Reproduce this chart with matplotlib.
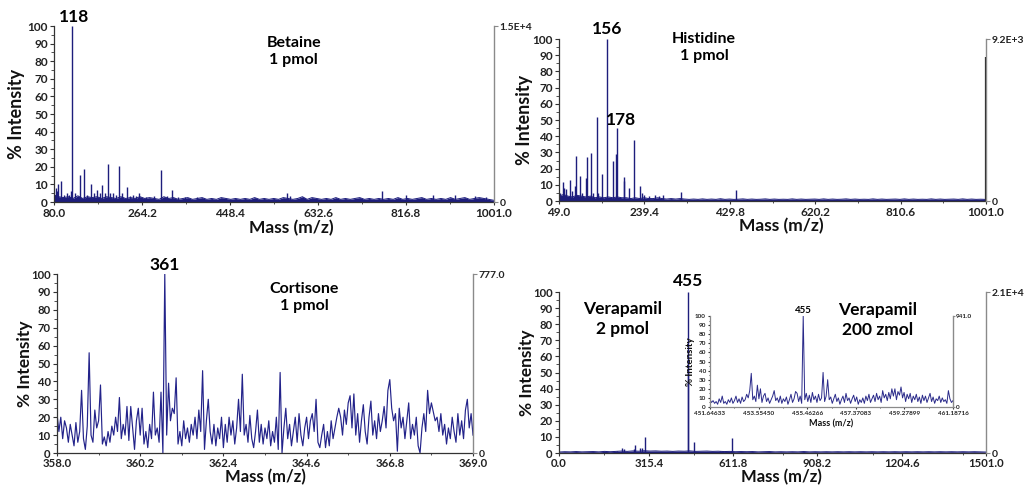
import numpy as np
import matplotlib
matplotlib.use("Agg")
import matplotlib.pyplot as plt
from matplotlib.ticker import MultipleLocator

plt.rcParams['font.family'] = ['Lato', 'DejaVu Sans']
plt.rcParams['font.weight'] = 'bold'

NAVY = '#1d1d7c'
AXIS = '#333333'
GREY = '#8a8a8a'

# ---------------- Betaine, 1 pmol ----------------
betaine_xticks = [80.0, 264.2, 448.4, 632.6, 816.8, 1001.0]
betaine_peak_mz = [84, 86, 89, 94, 100, 108, 112, 115, 118, 125, 134, 142, 150, 158, 164,
                   170, 176, 181, 186, 192, 198, 204, 210, 216, 222, 232, 240, 245, 252,
                   258, 272, 290, 305, 316, 327, 340, 355, 380, 568, 574, 767, 817, 873,
                   920, 962, 985]
betaine_peak_int = [8, 6, 10, 12, 4, 5, 4, 6, 100, 5, 15.5, 18.5, 4, 10, 5,
                    7, 5, 9.5, 5, 21.5, 5, 5, 4, 20.5, 5, 8.5, 3.5, 4, 3.5,
                    5, 3, 3.5, 18, 3.5, 7, 3, 3, 3, 5, 3.5, 6, 4, 4,
                    4, 3.5, 3]
betaine_noise = [4, 3, 2.5, 3, 2, 3.5, 2, 3, 2.5, 3,
                 2, 3, 2.5, 2, 3, 2, 2.5, 2, 3, 2,
                 2.5, 2, 1.5, 3, 2, 2.5, 1.5, 2, 2.5, 1.5,
                 2, 2.5, 1.5, 2, 1.5, 2.5, 2, 1.5, 2, 1.5,
                 2, 1.5, 2.5, 1.5, 2, 1.5, 2, 1.5, 2.5, 2,
                 1.5, 2, 3, 1.5, 2.5, 2, 1.5, 2, 1.5, 2.5,
                 1.5, 2, 1.5, 2, 2.5, 1.5, 2, 1.5, 2, 1.5,
                 2, 1.5, 2.5, 1.5, 2, 1.5, 2, 2.5, 1.5, 2,
                 1.5, 2, 1.5, 2.5, 1.5, 2, 2.5, 1.5, 2, 2.5,
                 2, 1.5, 1]
betaine_noise_start, betaine_noise_step = 80.0, 10.0

# ---------------- Histidine, 1 pmol ----------------
histidine_xticks = [49.0, 239.4, 429.8, 620.2, 810.6, 1001.0]
histidine_peak_mz = [51, 57, 61, 64, 73.5, 77, 85, 86, 96, 100, 110, 112, 121, 124, 134,
                     136, 145.5, 157, 169.5, 177, 178, 194, 195, 205, 217, 230, 233,
                     239, 250, 262, 271, 280, 322, 443]
histidine_peak_int = [5, 12, 8, 7.5, 13, 6, 9, 28, 15.5, 5, 14, 27, 29.5, 5, 52,
                      5, 16.5, 100, 24.5, 29, 45, 12.5, 15, 8, 37.5, 9, 5,
                      4, 3, 3.5, 3, 3.5, 5.5, 6.5]
histidine_edge = (1001.0, 89)
histidine_noise = [3, 4, 3, 2.5, 3.5, 3, 2.5, 3, 2, 2.5,
                   2, 2.5, 2, 2.5, 2, 2, 1.5, 2, 1.5, 2,
                   1.5, 1.5, 2, 1.5, 1.2, 1.5, 1.2, 1.5, 1.2, 1,
                   1.2, 1, 1.3, 1, 1.2, 1, 1.4, 1, 1.2, 1,
                   1.1, 1.3, 1, 1.2, 1, 1.1, 1.3, 1, 1.2, 1,
                   1.1, 1, 1.3, 1, 1.2, 1, 1.1, 1.2, 1, 1.3,
                   1, 1.2, 1, 1.1, 1.3, 1, 1.2, 1, 1.1, 1,
                   1.3, 1, 1.2, 1, 1.1, 1.2, 1, 1.3, 1, 1.2,
                   1, 1.1, 1, 1.3, 1, 1.2, 1, 1.1, 1.2, 1,
                   1.3, 1, 1.2, 1, 1.1, 1]
histidine_noise_start, histidine_noise_step = 49.0, 10.0

# ---------------- Cortisone, 1 pmol (profile) ----------------
cortisone_xticks = [358.0, 360.2, 362.4, 364.6, 366.8, 369.0]
cortisone_start, cortisone_step = 358.0, 0.05
cortisone_int = [22, 12, 20, 8, 18, 14, 6, 16, 10, 4,
                 17, 6, 12, 35, 8, 2, 15, 56, 10, 6,
                 24, 14, 18, 38, 5, 9, 4, 12, 6, 15,
                 10, 20, 12, 31, 8, 16, 10, 26, 7, 26,
                 14, 2, 18, 25, 10, 25, 5, 12, 3, 16,
                 8, 34, 10, 14, 6, 34, 0, 100, 10, 39,
                 18, 25, 22, 42, 5, 12, 4, 18, 8, 14,
                 6, 16, 10, 20, 8, 24, 12, 46, 2, 18,
                 30, 12, 5, 16, 4, 14, 8, 20, 3, 16,
                 6, 20, 10, 18, 5, 14, 30, 12, 44, 10,
                 16, 6, 21, 8, 3, 12, 24, 6, 16, 5,
                 14, 8, 18, 4, 12, 6, 20, 2, 45, 0,
                 14, 25, 8, 16, 4, 12, 20, 6, 22, 10,
                 4, 14, 20, 8, 18, 22, 12, 30, 6, 3,
                 10, 16, 3, 12, 4, 18, 8, 14, 20, 25,
                 20, 10, 24, 16, 28, 32, 14, 33, 10, 22,
                 6, 18, 27, 12, 5, 20, 29, 10, 18, 8,
                 22, 12, 18, 26, 14, 35, 41, 25, 18, 22,
                 1, 25, 14, 20, 8, 18, 28, 8, 16, 10,
                 20, 4, 0, 14, 22, 12, 35, 22, 28, 23,
                 18, 20, 12, 22, 10, 16, 5, 14, 8, 20,
                 12, 6, 22, 10, 18, 8, 24, 30, 14, 22,
                 10]

# ---------------- Verapamil, 2 pmol ----------------
verapamil_xticks = [0.0, 315.4, 611.8, 908.2, 1204.6, 1501.0]
verapamil_peak_mz = [203, 223, 227, 262, 266, 285, 291, 303, 454, 455, 473, 566, 607]
verapamil_peak_int = [1.5, 3, 2.5, 2.5, 5, 3, 3, 10, 52, 100, 7, 1.5, 9.5]
verapamil_noise = [0.6, 0.8, 0.7, 0.9, 0.7, 0.8, 0.9, 0.7, 1.0, 0.8,
                   1.0, 1.2, 1.0, 1.3, 1.1, 1.4, 1.2, 1.3, 1.1, 1.2,
                   1.0, 1.2, 1.1, 1.3, 1.0, 1.1, 1.2, 1.0, 1.1, 0.9,
                   1.0, 0.8, 0.9, 0.8, 0.9, 0.7, 0.8, 0.9, 0.7, 0.8,
                   0.7, 0.8, 0.7, 0.9, 0.7, 0.8, 0.7, 0.8, 0.7, 0.8,
                   0.7, 0.8, 0.7, 0.8, 0.7, 0.8, 0.7, 0.8, 0.7, 0.8,
                   0.7, 0.8, 0.7, 0.8, 0.7, 0.8, 0.7, 0.8, 0.7, 0.8,
                   0.7, 0.8, 0.7, 0.8, 0.7, 0.6]
verapamil_noise_start, verapamil_noise_step = 0.0, 20.0

# ---------------- Verapamil, 200 zmol (inset profile) ----------------
inset_xticks = [451.64633, 453.55450, 455.46266, 457.37083, 459.27899, 461.18716]
inset_start, inset_step = 451.64633, 0.06
inset_int = [8, 5, 7, 4, 6, 3, 9, 5, 12, 4,
             6, 3, 8, 5, 10, 4, 7, 12, 5, 9,
             4, 11, 6, 8, 14, 10, 18, 37, 8, 12,
             6, 24, 9, 20, 5, 12, 15, 6, 10, 4,
             8, 12, 18, 7, 10, 5, 12, 4, 9, 6,
             11, 3, 8, 14, 5, 9, 17, 15, 6, 12,
             4, 100, 8, 15, 6, 13, 5, 16, 8, 12,
             5, 14, 7, 10, 38, 6, 12, 30, 8, 11,
             4, 9, 14, 6, 10, 3, 8, 12, 5, 15,
             7, 10, 4, 9, 13, 6, 11, 3, 8, 5,
             10, 4, 12, 7, 14, 5, 9, 13, 6, 15,
             8, 12, 5, 18, 10, 14, 7, 16, 9, 20,
             12, 20, 8, 17, 13, 22, 10, 16, 6, 14,
             9, 15, 5, 12, 8, 14, 6, 11, 4, 13,
             7, 12, 5, 10, 15, 6, 11, 4, 9, 7,
             12, 5, 10, 6, 8, 4, 18, 9, 5, 7]

y_ticks = list(range(0, 101, 10))


def grid(start, step, values):
    return start + step * np.arange(len(values))


def style_axes(ax, xticks, right_top, ylab_x, xlab_xy, tick_fs=8.5, label_fs=12.5,
               right_fs=7.5, fmt='{:.1f}', xpad=2.0):
    ax.set_xlim(xticks[0], xticks[-1])
    ax.set_ylim(0, 100)
    ax.set_yticks(y_ticks)
    ax.yaxis.set_minor_locator(MultipleLocator(5))
    ax.set_xticks(xticks)
    ax.set_xticklabels([fmt.format(v) for v in xticks])
    step = xticks[1] - xticks[0]
    ax.set_xticks([xticks[0] + step * (i + 0.5) for i in range(len(xticks) - 1)], minor=True)
    ax.tick_params(axis='y', which='major', labelsize=tick_fs, length=3, width=0.8,
                   color=AXIS, labelcolor='#222222', pad=1.5)
    ax.tick_params(axis='x', which='major', labelsize=tick_fs, length=2, width=0.8,
                   direction='out', color=AXIS, labelcolor='#222222', pad=xpad)
    ax.tick_params(axis='y', which='minor', length=2, width=0.6, color=AXIS)
    ax.tick_params(axis='x', which='minor', length=1.5, width=0.6, color=AXIS)
    for lab in ax.get_xticklabels() + ax.get_yticklabels():
        lab.set_fontweight('bold')
    ax.spines['top'].set_visible(False)
    ax.spines['right'].set_visible(False)
    ax.spines['left'].set_color(AXIS)
    ax.spines['bottom'].set_color(AXIS)
    ax.spines['left'].set_linewidth(0.9)
    ax.spines['bottom'].set_linewidth(0.9)
    ax.set_ylabel('% Intensity', fontsize=label_fs + 0.5, fontweight='bold', color='#111111')
    ax.set_xlabel('Mass (m/z)', fontsize=label_fs, fontweight='bold', color='#111111')
    ax.yaxis.set_label_coords(ylab_x, 0.5)
    ax.xaxis.set_label_coords(*xlab_xy)
    ax.patch.set_alpha(0)

    tw = ax.twinx()
    tw.set_ylim(0, 100)
    tw.set_yticks([0, 100])
    tw.set_yticklabels(['0', right_top])
    tw.tick_params(axis='y', labelsize=right_fs, length=3, width=0.8, color=GREY,
                   labelcolor='#222222', pad=1)
    for s in ('top', 'left', 'bottom'):
        tw.spines[s].set_visible(False)
    tw.spines['right'].set_color(GREY)
    tw.spines['right'].set_linewidth(1.0)
    return tw


def draw_sticks(ax, noise_x, noise_y, peak_x, peak_y):
    ax.fill_between(noise_x, noise_y, 0, color=NAVY, lw=0)
    ax.plot(noise_x, noise_y, color=NAVY, lw=0.7)
    ax.vlines(peak_x, 0, peak_y, color=NAVY, lw=1.0)


fig = plt.figure(figsize=(10.35, 4.9), dpi=100)
W, H = 1035.0, 490.0


def box(l, r, t, b):
    return [l / W, 1 - b / H, (r - l) / W, (b - t) / H]


# Betaine
ax1 = fig.add_axes(box(54, 494, 26, 202))
draw_sticks(ax1, grid(betaine_noise_start, betaine_noise_step, betaine_noise), betaine_noise,
            betaine_peak_mz, betaine_peak_int)
style_axes(ax1, betaine_xticks, '1.5E+4', -0.066, (0.54, -0.1))
ax1.text(121, 100.5, '118', ha='center', va='bottom', fontsize=12.5, fontweight='bold')
ax1.text(0.545, 0.945, 'Betaine\n1 pmol', transform=ax1.transAxes, ha='center', va='top',
         fontsize=11.5, fontweight='bold', linespacing=1.3)

# Histidine
ax2 = fig.add_axes(box(559, 986, 39, 201))
draw_sticks(ax2, grid(histidine_noise_start, histidine_noise_step, histidine_noise),
            histidine_noise, histidine_peak_mz, histidine_peak_int)
ax2.vlines([histidine_edge[0]], 0, [histidine_edge[1]], color='#222222', lw=1.6)
style_axes(ax2, histidine_xticks, '9.2E+3', -0.061, (0.52, -0.105))
ax2.text(157, 101, '156', ha='center', va='bottom', fontsize=12.5, fontweight='bold')
ax2.text(187, 50, '178', ha='center', va='center', fontsize=12.5, fontweight='bold')
ax2.text(0.34, 1.045, 'Histidine\n1 pmol', transform=ax2.transAxes, ha='center', va='top',
         fontsize=11.5, fontweight='bold', linespacing=1.3)

# Cortisone
ax3 = fig.add_axes(box(57, 473, 274, 453))
ax3.plot(grid(cortisone_start, cortisone_step, cortisone_int), cortisone_int,
         color='#23238a', lw=0.85)
style_axes(ax3, cortisone_xticks, '777.0', -0.058, (0.5, -0.088), tick_fs=8.2,
           label_fs=12, xpad=1.5)
ax3.text(360.85, 100.5, '361', ha='center', va='bottom', fontsize=12.5, fontweight='bold')
ax3.text(0.595, 0.955, 'Cortisone\n1 pmol', transform=ax3.transAxes, ha='center', va='top',
         fontsize=11.5, fontweight='bold', linespacing=1.3)

# Verapamil 2 pmol
ax4 = fig.add_axes(box(559, 986, 292, 453))
draw_sticks(ax4, grid(verapamil_noise_start, verapamil_noise_step, verapamil_noise),
            verapamil_noise, verapamil_peak_mz, verapamil_peak_int)
style_axes(ax4, verapamil_xticks, '2.1E+4', -0.056, (0.52, -0.099), tick_fs=8.2,
           label_fs=12, xpad=1.5)
ax4.text(455, 102, '455', ha='center', va='bottom', fontsize=12.5, fontweight='bold')
ax4.text(0.148, 0.945, 'Verapamil\n2 pmol', transform=ax4.transAxes, ha='center', va='top',
         fontsize=12.5, fontweight='bold', linespacing=1.3)

# Verapamil 200 zmol inset
ax5 = fig.add_axes(box(710, 953, 316, 407))
ax5.set_facecolor('white')
ax5.plot(grid(inset_start, inset_step, inset_int), inset_int, color='#2a2a8a', lw=0.7)
tw5 = style_axes(ax5, inset_xticks, '941.0', -0.062, (0.5, -0.14), tick_fs=4.6,
                 label_fs=6.5, right_fs=4.6, fmt='{:.5f}', xpad=1.5)
ax5.patch.set_alpha(1)
ax5.tick_params(axis='both', which='major', length=1.5)
ax5.tick_params(axis='both', which='minor', length=1)
tw5.tick_params(axis='y', length=1.5, pad=0.5)
ax5.spines['left'].set_color(GREY)
ax5.spines['bottom'].set_color(GREY)
ax5.text(451.64633 + inset_step * 61, 101, '455', ha='center', va='bottom',
         fontsize=7, fontweight='bold')
# sample label for the inset, drawn with the inset so it sits above its background
ax5.text(0.745, 0.94, 'Verapamil\n200 zmol', transform=ax4.transAxes, ha='center',
         va='top', fontsize=12.5, fontweight='bold', linespacing=1.3, clip_on=False)

fig.savefig('out.png', dpi=100, facecolor='white')
